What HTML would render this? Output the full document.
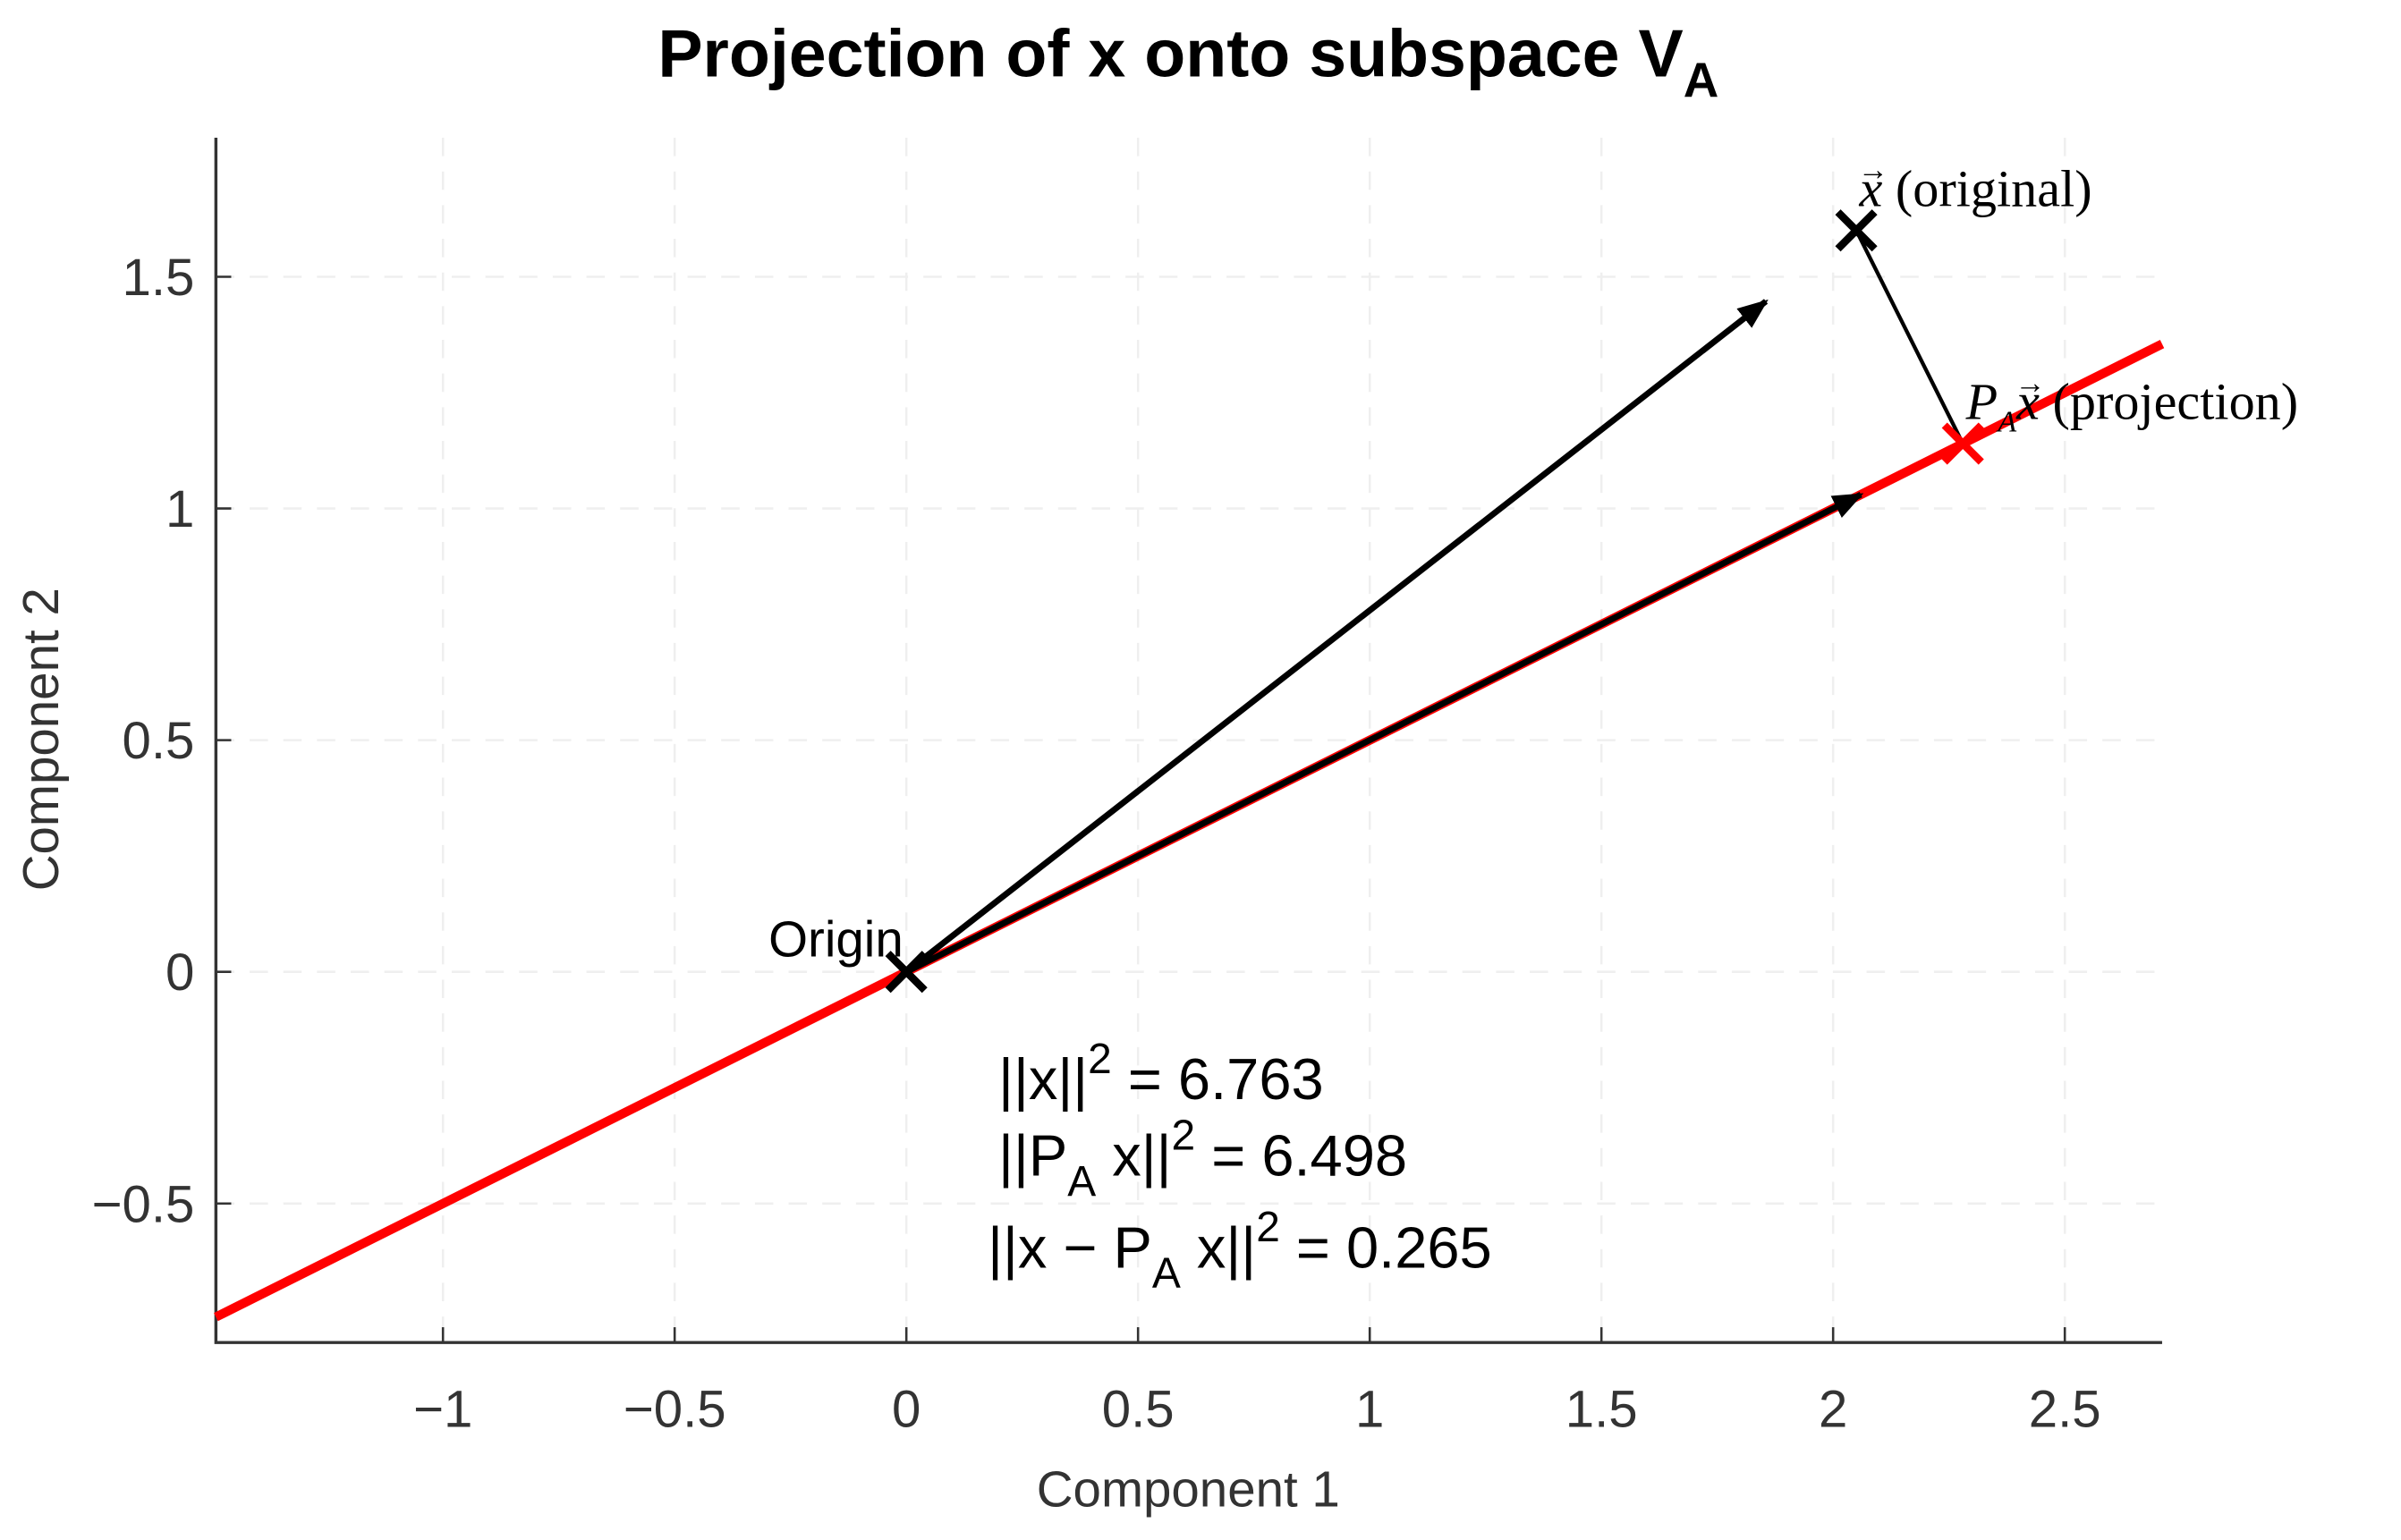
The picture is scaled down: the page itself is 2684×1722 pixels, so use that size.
<!DOCTYPE html>
<html><head><meta charset="utf-8"><style>
html,body{margin:0;padding:0;background:#fff}
svg{display:block}
.sans{font-family:"Liberation Sans",Arial,sans-serif}
.serif{font-family:"Liberation Serif","DejaVu Serif",serif}
</style></head><body>
<svg id="chart" class="sans" width="2684" height="1722" viewBox="0 0 1568 1006" xmlns="http://www.w3.org/2000/svg">
<defs>
<marker id="ah" viewBox="0 0 10 10" refX="9" refY="5" markerWidth="5" markerHeight="5" orient="auto"><path d="M0,1 L10,5 L0,9 z" fill="#000"/></marker>
</defs>
<g id="grid"></g>
<g id="axes"></g>
<g id="marks"></g>
<text x="776" y="50" text-anchor="middle" font-size="44" font-weight="bold">Projection of x onto subspace V<tspan dy="13" font-size="32">A</tspan></text>
<text x="776" y="984" text-anchor="middle" font-size="33" fill="#333">Component 1</text>
<text transform="translate(38,483) rotate(-90)" text-anchor="middle" font-size="33" fill="#333">Component 2</text>
<text x="652" y="718" font-size="38">||x||<tspan dy="-17" font-size="28">2</tspan><tspan dy="17"> = 6.763</tspan></text>
<text x="652" y="768" font-size="38">||P<tspan dy="13" font-size="28">A</tspan><tspan dy="-13"> x||</tspan><tspan dy="-17" font-size="28">2</tspan><tspan dy="17"> = 6.498</tspan></text>
<text x="645" y="828" font-size="38">||x − P<tspan dy="13" font-size="28">A</tspan><tspan dy="-13"> x||</tspan><tspan dy="-17" font-size="28">2</tspan><tspan dy="17"> = 0.265</tspan></text>
</svg>
<script>
const xTicks = [-1, -0.5, 0, 0.5, 1, 1.5, 2, 2.5];
const xTickLabels = ["\u22121", "\u22120.5", "0", "0.5", "1", "1.5", "2", "2.5"];
const yTicks = [-0.5, 0, 0.5, 1, 1.5];
const yTickLabels = ["\u22120.5", "0", "0.5", "1", "1.5"];
const xDomain = [-1.49, 2.71];
const yDomain = [-0.80, 1.80];
const subspaceSlope = [0.5];
const origin = [0, 0];
const xVec = [2.05, 1.60];
const projVec = [2.28, 1.14];
const arrow1Tip = [1.855, 1.447];
const arrow2Tip = [2.06, 1.03];

const L=141,R=1412,T=90,B=877;
const sx=v=>L+(v-xDomain[0])/(xDomain[1]-xDomain[0])*(R-L);
const sy=v=>B-(v-yDomain[0])/(yDomain[1]-yDomain[0])*(B-T);
const NS="http://www.w3.org/2000/svg";
function mk(parent,tag,attrs){const e=document.createElementNS(NS,tag);for(const k in attrs)e.setAttribute(k,attrs[k]);parent.appendChild(e);return e;}
const grid=document.getElementById('grid'),axes=document.getElementById('axes'),marks=document.getElementById('marks');

xTicks.forEach((t,i)=>{
  const g=mk(grid,'line',{x1:sx(t),x2:sx(t),y1:T,y2:B,stroke:'#efefef','stroke-width':1.5,'stroke-dasharray':'12,10'});
  
  
  const tk=mk(axes,'line',{x1:sx(t),x2:sx(t),y1:B,y2:B-10,stroke:'#333','stroke-width':1.5});
  
  
  const lb=mk(axes,'text',{x:sx(t),y:B+55,'text-anchor':'middle','font-size':34,fill:'#333'});
  lb.textContent=xTickLabels[i];
  
  
});
yTicks.forEach((t,i)=>{
  const g=mk(grid,'line',{x1:L,x2:R,y1:sy(t),y2:sy(t),stroke:'#efefef','stroke-width':1.5,'stroke-dasharray':'12,10'});
  
  
  const tk=mk(axes,'line',{x1:L,x2:L+10,y1:sy(t),y2:sy(t),stroke:'#333','stroke-width':1.5});
  
  
  const lb=mk(axes,'text',{x:L-14,y:sy(t)+12,'text-anchor':'end','font-size':34,fill:'#333'});
  lb.textContent=yTickLabels[i];
  
  
});
const ax=mk(axes,'path',{d:`M${L},${T} L${L},${B} L${R},${B}`,fill:'none',stroke:'#333','stroke-width':2});



const m=subspaceSlope[0];
const sub=mk(marks,'line',{x1:sx(xDomain[0]),y1:sy(m*xDomain[0]),x2:sx(xDomain[1]),y2:sy(m*xDomain[1]),stroke:'#ff0000','stroke-width':6});



const a1=mk(marks,'line',{x1:sx(origin[0]),y1:sy(origin[1]),x2:sx(arrow1Tip[0]),y2:sy(arrow1Tip[1]),stroke:'#000','stroke-width':4,'marker-end':'url(#ah)'});


const a2=mk(marks,'line',{x1:sx(origin[0]),y1:sy(origin[1]),x2:sx(arrow2Tip[0]),y2:sy(arrow2Tip[1]),stroke:'#000','stroke-width':4,'marker-end':'url(#ah)'});


const res=mk(marks,'line',{x1:sx(xVec[0]),y1:sy(xVec[1]),x2:sx(projVec[0]),y2:sy(projVec[1]),stroke:'#000','stroke-width':2.5});



function cross(p,color,name){
  const cx=sx(p[0]),cy=sy(p[1]),s=12;
  const g=mk(marks,'path',{d:`M${cx-s},${cy-s} L${cx+s},${cy+s} M${cx-s},${cy+s} L${cx+s},${cy-s}`,stroke:color,'stroke-width':5,fill:'none'});
  
  
}
cross(origin,'#000','origin-marker');
cross(xVec,'#000','x-marker');
cross(projVec,'#ff0000','projection-marker');

const ol=mk(marks,'text',{x:sx(origin[0])-2,y:sy(origin[1])-10,'text-anchor':'end','font-size':33});
ol.textContent='Origin';



// x label
const xx=sx(xVec[0])+2, xy=sy(xVec[1])-16;
const xl=mk(marks,'text',{x:xx,y:xy,'font-size':34,'class':'serif'});
xl.innerHTML='<tspan font-style="italic">x</tspan> (original)';


const xa=mk(marks,'text',{x:xx-1,y:xy-17,'font-size':20,'class':'serif'});
xa.textContent='→';



// projection label
const px=sx(projVec[0])+2, py=sy(projVec[1])-16;
const pl=mk(marks,'text',{x:px,y:py,'font-size':34,'class':'serif'});
pl.innerHTML='<tspan font-style="italic">P</tspan><tspan font-size="20" dy="8" font-style="italic">A</tspan><tspan dy="-8" font-style="italic">x</tspan> (projection)';


const pa=mk(marks,'text',{x:px+32,y:py-17,'font-size':20,'class':'serif'});
pa.textContent='→';


</script>
</body></html>
